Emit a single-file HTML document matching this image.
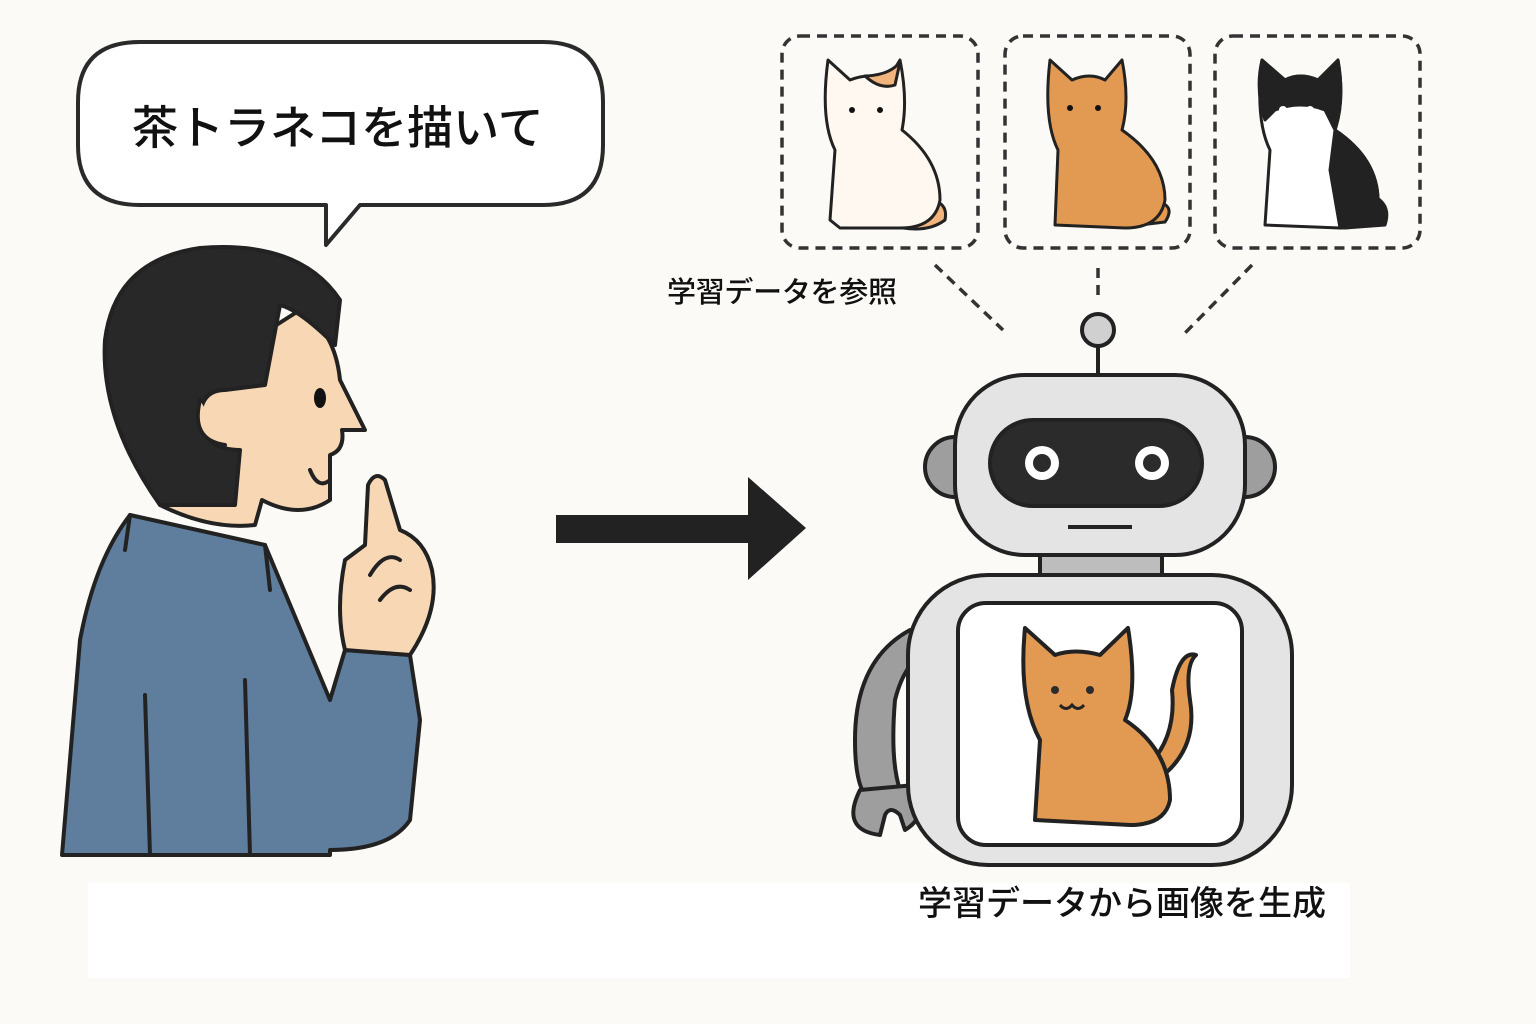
<!DOCTYPE html>
<html><head><meta charset="utf-8"><style>
html,body{margin:0;padding:0;background:#fbfaf6;}
svg{display:block}
text{font-family:"Liberation Sans","Noto Sans CJK JP",sans-serif;fill:#111}
</style></head><body>
<svg width="1536" height="1024" viewBox="0 0 1536 1024" xmlns="http://www.w3.org/2000/svg">
<rect width="1536" height="1024" fill="#fbfaf6"/>
<rect x="88" y="883" width="1262" height="95" fill="#ffffff"/>

<path d="M140 42 H543 Q603 42 603 102 V145 Q603 205 543 205 H360 L326 245 L326 205 H140 Q78 205 78 145 V102 Q78 42 140 42 Z" fill="#fff" stroke="#2a2a2a" stroke-width="4" stroke-linejoin="round"/>
<text x="132" y="144" font-size="46" font-weight="500">茶トラネコを描いて</text>

<g stroke="#222" stroke-width="4" stroke-linejoin="round" stroke-linecap="round">
<path d="M62 855 L80 640 Q95 560 130 515 L265 545 L330 700 L345 650 L410 655 L420 720 L410 820 Q390 850 330 850 L330 855 Z" fill="#5f7d9d"/>
<path d="M190 380 Q170 470 160 505 Q210 530 255 525 L262 500 Q300 520 330 500 L330 455 Q345 450 342 430 L365 430 L340 380 Q335 330 300 310 Z" fill="#f8d7b4"/>
<path d="M160 505 Q100 420 105 340 Q115 260 200 248 Q300 240 340 300 L335 345 Q300 310 280 305 L265 385 L225 390 Q200 390 200 420 Q205 450 240 450 L235 505 Z" fill="#282828"/>
<path d="M200 400 Q190 440 225 445" fill="#f8d7b4"/>
<path d="M345 650 Q335 610 345 560 L365 545 L368 485 Q375 470 385 480 L400 530 Q425 540 432 570 Q440 610 410 655 Z" fill="#f8d7b4"/>
<path d="M370 575 Q385 550 400 560 M380 600 Q395 580 410 590" fill="none"/>
<path d="M145 695 L150 855 M245 680 L250 855 M130 515 L125 550 M265 545 L270 590" fill="none"/>
<path d="M310 470 Q318 490 330 480" fill="none"/>
</g>
<ellipse cx="320" cy="398" rx="6" ry="10" fill="#111"/>

<rect x="556" y="515" width="196" height="28" fill="#222"/>
<polygon points="748,477 806,528 748,580" fill="#222"/>

<g fill="none" stroke="#333" stroke-width="3.5" stroke-dasharray="10 7">
<rect x="782" y="36" width="196" height="212" rx="18"/>
<rect x="1005" y="36" width="185" height="212" rx="18"/>
<rect x="1215" y="36" width="205" height="212" rx="18"/>
<line x1="935" y1="265" x2="1003" y2="330"/>
<line x1="1098" y1="268" x2="1098" y2="302"/>
<line x1="1252" y1="265" x2="1185" y2="333"/>
</g>

<g stroke="#222" stroke-width="3" stroke-linejoin="round">
<path d="M910 200 Q950 195 945 220 Q925 235 890 225 Z" fill="#f0b47c"/>
<path d="M830 220 L835 150 Q820 120 828 60 L850 80 Q870 72 888 80 L900 60 Q908 100 902 130 Q940 160 940 200 Q935 228 900 228 L840 228 Z" fill="#fff8f0"/>
<path d="M865 76 Q880 90 895 85 L900 62 Q890 75 865 76Z" fill="#f0b47c"/>
<path d="M1140 200 Q1180 200 1165 222 L1140 225Z" fill="#e29a52"/>
<path d="M1055 225 L1058 150 Q1043 120 1050 60 L1072 80 Q1090 72 1105 80 L1122 60 Q1130 100 1122 130 Q1165 160 1165 200 Q1160 228 1125 228 Z" fill="#e29a52"/>
<path d="M1350 190 Q1395 195 1385 225 L1345 228Z" fill="#222"/>
<path d="M1265 225 L1270 150 Q1255 120 1262 60 L1285 80 Q1300 72 1318 80 L1338 60 Q1345 100 1335 130 Q1380 160 1378 205 Q1372 228 1340 228 Z" fill="#fff"/>
<path d="M1262 60 L1285 80 Q1300 72 1318 80 L1338 60 Q1345 100 1335 130 L1325 110 Q1300 100 1275 110 L1265 120 Q1255 90 1262 60Z M1335 130 Q1380 160 1378 205 Q1372 228 1340 228 L1330 170Z" fill="#222"/>
</g>
<g fill="#111"><circle cx="852" cy="110" r="3"/><circle cx="880" cy="110" r="3"/><circle cx="1070" cy="108" r="3"/><circle cx="1098" cy="108" r="3"/><circle cx="1283" cy="110" r="4" fill="#fff"/><circle cx="1310" cy="110" r="4" fill="#fff"/></g>

<text x="667" y="302" font-size="29" font-weight="500" textLength="230">学習データを参照</text>

<g stroke="#222" stroke-width="4" stroke-linejoin="round">
<line x1="1098" y1="340" x2="1098" y2="378"/>
<circle cx="1098" cy="330" r="16" fill="#d0d0d0"/>
<circle cx="955" cy="467" r="30" fill="#9e9e9e"/>
<circle cx="1245" cy="467" r="30" fill="#9e9e9e"/>
<path d="M910 630 Q855 660 855 740 Q855 790 870 800 L900 790 Q890 760 895 700 Q905 660 930 650 Z" fill="#9e9e9e"/>
<path d="M860 790 Q840 830 880 835 L885 815 Q890 805 900 815 L905 830 Q930 815 915 785 Z" fill="#9e9e9e"/>
<rect x="1040" y="550" width="122" height="30" fill="#bdbdbd"/>
<rect x="908" y="575" width="384" height="290" rx="80" fill="#e4e4e4"/>
<rect x="958" y="603" width="284" height="242" rx="28" fill="#fff"/>
<rect x="955" y="375" width="290" height="180" rx="70" fill="#e4e4e4"/>
<rect x="990" y="420" width="212" height="86" rx="43" fill="#2b2b2b"/>
<line x1="1068" y1="527" x2="1132" y2="527"/>
<path d="M1140 790 Q1200 760 1190 700 Q1185 665 1196 655 Q1180 650 1172 690 Q1178 750 1130 780 Z" fill="#e29a52"/>
<path d="M1035 820 L1040 740 Q1018 700 1025 628 L1055 655 Q1075 648 1100 655 L1128 628 Q1138 690 1125 720 Q1170 750 1170 800 Q1165 825 1130 825 Z" fill="#e29a52"/>
</g>
<g fill="#fff" stroke="none"><circle cx="1042" cy="463" r="17"/><circle cx="1152" cy="463" r="17"/></g>
<g fill="#2b2b2b"><circle cx="1042" cy="463" r="9"/><circle cx="1152" cy="463" r="9"/><circle cx="1055" cy="690" r="4"/><circle cx="1090" cy="690" r="4"/></g>
<path d="M1060 705 Q1066 712 1072 705 Q1078 712 1084 705" fill="none" stroke="#222" stroke-width="3"/>

<text x="918" y="915" font-size="34" font-weight="500">学習データから画像を生成</text>
</svg>
</body></html>
